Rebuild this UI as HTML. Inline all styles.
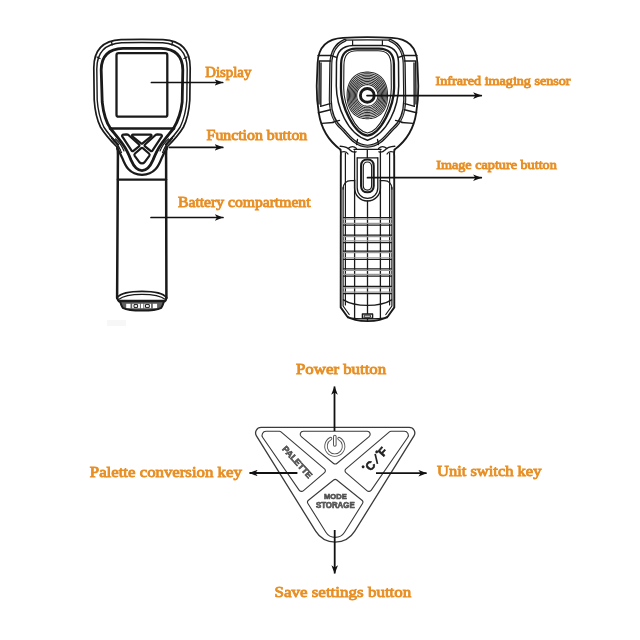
<!DOCTYPE html>
<html><head><meta charset="utf-8">
<style>
html,body{margin:0;padding:0;background:#fff;width:640px;height:640px;overflow:hidden}
svg{display:block;will-change:transform}
.lbl{font-family:"Liberation Serif",serif;font-weight:normal;fill:#E78F24;stroke:#E78F24;stroke-width:0.85px}
</style></head><body>
<svg width="640" height="640" viewBox="0 0 640 640">
<defs>
<marker id="ah" viewBox="0 0 8.5 6.6" refX="8.2" refY="3.3" markerWidth="8.5" markerHeight="6.6" markerUnits="userSpaceOnUse" orient="auto">
<path d="M0,0 L8.5,3.3 L0,6.6 L2.2,3.3 Z" fill="#111"/>
</marker>
</defs>

<!-- ============ LEFT DEVICE (front) ============ -->
<g fill="none" stroke="#1a1a1a" stroke-linecap="round" stroke-linejoin="round">
  <!-- outer shell -->
  <path stroke-width="1.7" d="M117,147 C110,140 104,133 100.5,127 C97,120 95,112 94.2,100 L93.8,68 C93.8,50 103,40.6 121,39.7 Q142,38.9 163,39.7 C181,40.6 190.2,50 190.2,68 L189.8,100 C189,112 187,120 183.5,127 C180,133 174,140 167,147"/>
  <path stroke-width="1.4" d="M118.5,144.5 C112,138 107,132 103.8,127 C100.5,120 98,112 97.2,100 L96.8,69 C96.8,53 105,43.8 121.5,42.8 Q142,42.1 162.5,42.8 C179,43.8 187.2,53 187.2,69 L186.8,100 C186,112 183.5,120 180.2,127 C177,132 172,138 165.5,144.5"/>
  <!-- notches in double line -->
  <path stroke-width="1.35" d="M111.5,41.8 L112.2,44.8 M172.5,41.8 L171.8,44.8 M97,57 L100,58.5 M187,57 L184,58.5"/>
  <!-- thick inner contour -->
  <path stroke-width="2.80" d="M110.5,128.5 C106,122 103.5,114 102.2,102 L101.2,70 C101.2,56 108.5,48.8 123,48.3 L161,48.3 C175.5,48.8 182.8,56 182.8,70 L182.2,102 C181,113 178,121 173.5,128.5"/>
  <!-- screen -->
  <rect x="116.5" y="53.2" width="50.8" height="63.5" rx="2" stroke-width="2.30"/>
  <!-- bezel bottom line -->
  <path stroke-width="2.50" d="M110,128.4 L174,128.4"/>
  <!-- V surround thick -->
  <path stroke-width="2.90" d="M110.5,128.5 C114,133 119,139 123,144.5 C127,150 129,155 131,160 C134,167 137,170.6 142,170.6 C147,170.6 150,167 153,160 C155,155 157,150 161,144.5 C165,139 170,133 173.5,128.5"/>
  <!-- outer U -->
  <path stroke-width="2.20" d="M117.2,148.5 C119,151 121,155 122.5,158.5 C125,165 129,174.8 142,174.8 C155,174.8 159,165 161.5,158.5 C163,155 165,151 166.8,148.5"/>
  <!-- buttons -->
  <path stroke-width="2.20" d="M133,134.7 L150.5,134.7 C151.5,134.7 152,135.5 151.2,136.3 L142.5,143.4 C142,143.8 141.5,143.8 141,143.4 L132.3,136.3 C131.5,135.5 132,134.7 133,134.7 Z"/>
  <path stroke-width="2.20" d="M123.5,134.6 L126.5,134.4 C127.5,134.4 128,134.6 128.7,135.2 L139,144.5 C139.6,145 139.6,145.8 139,146.3 L133.4,150.9 C132.8,151.4 132,151.2 131.6,150.6 L122.2,136.4 C121.7,135.5 122.5,134.7 123.5,134.6 Z"/>
  <path stroke-width="2.20" d="M160.5,134.6 L157.5,134.4 C156.5,134.4 156,134.6 155.3,135.2 L145,144.5 C144.4,145 144.4,145.8 145,146.3 L150.6,150.9 C151.2,151.4 152,151.2 152.4,150.6 L161.8,136.4 C162.3,135.5 161.5,134.7 160.5,134.6 Z"/>
  <path stroke-width="2.20" d="M141.2,148.2 C141.7,147.8 142.3,147.8 142.8,148.2 L149,153.5 C149.7,154.1 149.8,155 149.3,155.8 L144.5,162.3 C143.3,163.8 140.7,163.8 139.5,162.3 L134.7,155.8 C134.2,155 134.3,154.1 135,153.5 Z"/>
  <!-- grip ridges left -->
  <path stroke-width="1.2" d="M110,136 C114,139 117,143 119.5,148 M111.5,138.5 C115,141 118,145 120.5,150 M113,140.5 C116.5,143 119,147 121.5,152.5 M115.5,139 C119,142 122,146 124,151"/>
  <!-- grip ridges right -->
  <path stroke-width="1.2" d="M174,136 C170,139 167,143 164.5,148 M172.5,138.5 C169,141 166,145 163.5,150 M171,140.5 C167.5,143 165,147 162.5,152.5 M168.5,139 C165,142 162,146 160,151"/>
  <!-- handle -->
  <path stroke-width="2.50" d="M117.4,147.5 C118,150 118,153 117.9,158 L117.1,298"/>
  <path stroke-width="2.50" d="M166.6,147.5 C166,150 166,153 166.1,158 L166.4,298"/>
  <path stroke-width="2.30" d="M117.8,179.6 L166.2,179.6"/>
  <!-- bottom cap -->
  <path stroke="none" fill="#606060" d="M119.5,300 L164.5,300 C164,303 163,306 161.5,308 C157,310.5 150,311 142,311 C134,311 127,310.5 122.5,308 C121,306 120,303 119.5,300 Z"/>
  <g stroke="none" fill="#fff">
    <rect x="126.2" y="303.8" width="4.3" height="4.4"/>
    <rect x="132.2" y="303.8" width="7.7" height="4.4"/>
    <rect x="140.9" y="303.8" width="2.4" height="4.4"/>
    <rect x="144.3" y="303.8" width="6.8" height="4.4"/>
    <rect x="152.8" y="303.8" width="4.3" height="4.4"/>
  </g>
  <path stroke-width="1" d="M134.4,304.6 L137.6,304.6 L137.6,307.4 L134.4,307.4 Z M145.9,304.6 L149.3,304.6 L149.3,307.4 L145.9,307.4 Z"/>
  <path stroke-width="1.7" d="M117.1,297.5 C121,293 131,291.4 142,291.4 C153,291.4 163,293 166.4,297.5"/>
  <path stroke-width="1.3" d="M118.6,299.4 C123,296 132,294.4 142,294.4 C152,294.4 161,296 165.4,299.4"/>
  <path stroke-width="2" d="M117.1,297.5 C117.5,300 119,301.5 120.2,302 C121,304.5 121.8,306.5 122.7,307.8 C127,310 134,310.6 142,310.6 C150,310.6 157,310 161.3,307.8 C162.2,306.5 163,304.5 163.8,302 C165,301.5 166.4,300 166.4,297.5"/>
  <path stroke-width="2.4" d="M120.2,301 L163.8,301"/>
  <!-- faint marks below -->
  <rect x="107" y="320" width="19" height="6" fill="#f7f7f7" stroke="none"/>
  <!-- arrows -->
  <g stroke="#111" stroke-width="1.7">
    <path d="M151.4,82.5 L222.7,82.5" marker-end="url(#ah)"/>
    <path d="M169.3,147.4 L222.8,147.4" marker-end="url(#ah)"/>
    <path d="M151,217.5 L223,217.5" marker-end="url(#ah)"/>
  </g>
</g>

<!-- ============ RIGHT DEVICE (back) ============ -->
<g fill="none" stroke="#1a1a1a" stroke-linecap="round" stroke-linejoin="round">
  <!-- outer head C1 -->
  <path stroke-width="1.8" d="M340.4,149.6 C329,141 321,128 318.8,113 C317.3,104 316.6,95 316.7,86 L317.6,63 C318.4,46 328,38.6 343,37.9 Q367.5,36.4 392,37.9 C407,38.6 416.6,46 417.4,63 L418.3,86 C418.4,95 417.7,104 416.2,113 C414,128 406,141 394.6,149.6"/>
  <!-- top second line -->
  <path stroke-width="1.3" d="M344,40.2 Q367.5,39.4 391,40.2"/>
  <!-- C2 thick band -->
  <path stroke-width="3.1" d="M345,40.3 C337,43.5 331.2,51 330.8,64 L330.3,100 C330.6,114 334,122 341.7,128.4 C348,134 354,145.8 367.5,146.2 C381,145.8 387,134 393.3,128.4 C401,122 404.4,114 404.7,100 L404.2,64 C403.8,51 398,43.5 390,40.3"/>
  <path stroke-width="0.8" stroke="#c8c8c8" d="M345,40.3 C337,43.5 331.2,51 330.8,64 L330.3,100 C330.6,114 334,122 341.7,128.4 C348,134 354,145.8 367.5,146.2 C381,145.8 387,134 393.3,128.4 C401,122 404.4,114 404.7,100 L404.2,64 C403.8,51 398,43.5 390,40.3"/>
  <!-- C3 -->
  <path stroke-width="1.5" d="M367.5,140.2 C347,134 336.5,106 336.3,86 L336.5,62 C336.8,51 342,46 353,45.6 L382,45.6 C393,46 398.2,51 398.5,62 L398.7,86 C398.5,106 388,134 367.5,140.2 Z"/>
  <path stroke-width="1.2" d="M352.6,40.5 L352.6,45.4 M382.4,40.5 L382.4,45.4"/>
  <!-- C4 window thick -->
  <path stroke-width="2.3" d="M367.5,135.6 C354,134 341,106 340.9,88 L341.1,64 C341.4,53.5 346,48.9 356,48.7 L379,48.7 C389,48.9 393.6,53.5 393.9,64 L394.1,88 C394,106 381,134 367.5,135.6 Z"/>
  <!-- C5 window inner -->
  <path stroke-width="1.1" d="M367.5,133 C355,131.5 343.7,105 343.7,88 L343.9,65 C344.2,55 348,50.9 357,50.8 L378,50.8 C387,50.9 390.8,55 391.1,65 L391.3,88 C391.3,105 380,131.5 367.5,133 Z"/>
  <!-- radial ticks between C2/C3 -->
  <path stroke-width="1.3" d="M357.5,139.5 L356.5,144.5 M377.5,139.5 L378.5,144.5 M333,122.2 L339.5,120.4 M402,122.2 L395.5,120.4"/>
  <!-- side grips -->
  <path stroke-width="1.4" d="M318,55.5 L331,55.5 L336.5,57.3 M319.3,61 L330.8,61 M319.3,61 L319,104 M321,63 L320.8,106.4 M320.6,106.4 L330.1,103.6 M318.4,112.8 L330.5,109.7 M321.8,123.4 L333.3,122.5"/>
  <path stroke-width="1.4" d="M417,55.5 L404,55.5 L398.5,57.3 M415.7,61 L404.2,61 M415.7,61 L416,104 M414,63 L414.2,106.4 M414.4,106.4 L404.9,103.6 M416.6,112.8 L404.5,109.7 M413.2,123.4 L401.7,122.5"/>
  <!-- rings -->
  <g stroke-width="1.05" stroke="#2a2a2a">
    <path d="M377.90,95.40 L377.87,96.15 L377.80,96.90 L377.67,97.65 L377.49,98.38 L377.26,99.09 L376.98,99.79 L376.66,100.47 L376.29,101.12 L375.88,101.75 L375.42,102.34 L374.93,102.90 L374.39,103.43 L373.83,103.91 L373.23,104.35 L372.60,104.75 L371.95,105.11 L371.27,105.41 L370.58,105.67 L369.86,105.88 L369.14,106.04 L368.41,106.14 L367.67,106.19 L366.93,106.19 L366.19,106.14 L365.46,106.04 L364.74,105.88 L364.02,105.67 L363.33,105.41 L362.65,105.11 L362.00,104.75 L361.37,104.35 L360.77,103.91 L360.21,103.43 L359.67,102.90 L359.18,102.34 L358.72,101.75 L358.31,101.12 L357.94,100.47 L357.62,99.79 L357.34,99.09 L357.11,98.38 L356.93,97.65 L356.80,96.90 L356.73,96.15 L356.70,95.40 L356.73,94.65 L356.80,93.90 L356.93,93.15 L357.11,92.42 L357.34,91.71 L357.62,91.01 L357.94,90.33 L358.31,89.68 L358.72,89.05 L359.18,88.46 L359.67,87.90 L360.21,87.37 L360.77,86.89 L361.37,86.45 L362.00,86.05 L362.65,85.69 L363.33,85.39 L364.02,85.13 L364.74,84.92 L365.46,84.76 L366.19,84.66 L366.93,84.61 L367.67,84.61 L368.41,84.66 L369.14,84.76 L369.86,84.92 L370.58,85.13 L371.27,85.39 L371.95,85.69 L372.60,86.05 L373.23,86.45 L373.83,86.89 L374.39,87.37 L374.93,87.90 L375.42,88.46 L375.88,89.05 L376.29,89.68 L376.66,90.33 L376.98,91.01 L377.26,91.71 L377.49,92.42 L377.67,93.15 L377.80,93.90 L377.87,94.65 Z"/>
    <path d="M379.10,95.40 L379.07,96.30 L378.99,97.17 L378.85,98.03 L378.65,98.88 L378.40,99.70 L378.09,100.50 L377.74,101.27 L377.33,102.02 L376.88,102.73 L376.38,103.40 L375.83,104.04 L375.24,104.63 L374.62,105.18 L373.96,105.68 L373.26,106.13 L372.54,106.53 L371.79,106.88 L371.01,107.17 L370.22,107.40 L369.40,107.58 L368.58,107.70 L367.73,107.76 L366.87,107.76 L366.02,107.70 L365.20,107.58 L364.38,107.40 L363.59,107.17 L362.81,106.88 L362.06,106.53 L361.34,106.13 L360.64,105.68 L359.98,105.18 L359.36,104.63 L358.77,104.04 L358.22,103.40 L357.72,102.73 L357.27,102.02 L356.86,101.27 L356.51,100.50 L356.20,99.70 L355.95,98.88 L355.75,98.03 L355.61,97.17 L355.53,96.30 L355.50,95.40 L355.53,94.50 L355.61,93.63 L355.75,92.77 L355.95,91.92 L356.20,91.10 L356.51,90.30 L356.86,89.53 L357.27,88.78 L357.72,88.07 L358.22,87.40 L358.77,86.76 L359.36,86.17 L359.98,85.62 L360.64,85.12 L361.34,84.67 L362.06,84.27 L362.81,83.92 L363.59,83.63 L364.38,83.40 L365.20,83.22 L366.02,83.10 L366.87,83.04 L367.73,83.04 L368.58,83.10 L369.40,83.22 L370.22,83.40 L371.01,83.63 L371.79,83.92 L372.54,84.27 L373.26,84.67 L373.96,85.12 L374.62,85.62 L375.24,86.17 L375.83,86.76 L376.38,87.40 L376.88,88.07 L377.33,88.78 L377.74,89.53 L378.09,90.30 L378.40,91.10 L378.65,91.92 L378.85,92.77 L378.99,93.63 L379.07,94.50 Z"/>
    <path d="M380.30,95.40 L380.27,96.45 L380.18,97.46 L380.02,98.44 L379.81,99.39 L379.54,100.32 L379.21,101.22 L378.82,102.09 L378.38,102.92 L377.88,103.72 L377.34,104.47 L376.75,105.18 L376.11,105.84 L375.42,106.45 L374.70,107.01 L373.94,107.51 L373.14,107.96 L372.32,108.34 L371.46,108.66 L370.58,108.92 L369.68,109.12 L368.76,109.25 L367.80,109.32 L366.80,109.32 L365.84,109.25 L364.92,109.12 L364.02,108.92 L363.14,108.66 L362.28,108.34 L361.46,107.96 L360.66,107.51 L359.90,107.01 L359.18,106.45 L358.49,105.84 L357.85,105.18 L357.26,104.47 L356.72,103.72 L356.22,102.92 L355.78,102.09 L355.39,101.22 L355.06,100.32 L354.79,99.39 L354.58,98.44 L354.42,97.46 L354.33,96.45 L354.30,95.40 L354.33,94.35 L354.42,93.34 L354.58,92.36 L354.79,91.41 L355.06,90.48 L355.39,89.58 L355.78,88.71 L356.22,87.88 L356.72,87.08 L357.26,86.33 L357.85,85.62 L358.49,84.96 L359.18,84.35 L359.90,83.79 L360.66,83.29 L361.46,82.84 L362.28,82.46 L363.14,82.14 L364.02,81.88 L364.92,81.68 L365.84,81.55 L366.80,81.48 L367.80,81.48 L368.76,81.55 L369.68,81.68 L370.58,81.88 L371.46,82.14 L372.32,82.46 L373.14,82.84 L373.94,83.29 L374.70,83.79 L375.42,84.35 L376.11,84.96 L376.75,85.62 L377.34,86.33 L377.88,87.08 L378.38,87.88 L378.82,88.71 L379.21,89.58 L379.54,90.48 L379.81,91.41 L380.02,92.36 L380.18,93.34 L380.27,94.35 Z"/>
    <path d="M381.50,95.40 L381.47,96.62 L381.37,97.75 L381.20,98.85 L380.97,99.92 L380.68,100.96 L380.32,101.96 L379.91,102.92 L379.43,103.84 L378.90,104.72 L378.31,105.55 L377.67,106.34 L376.97,107.06 L376.23,107.74 L375.45,108.35 L374.62,108.90 L373.76,109.39 L372.86,109.81 L371.92,110.16 L370.96,110.45 L369.97,110.66 L368.94,110.81 L367.88,110.88 L366.72,110.88 L365.66,110.81 L364.63,110.66 L363.64,110.45 L362.68,110.16 L361.74,109.81 L360.84,109.39 L359.98,108.90 L359.15,108.35 L358.37,107.74 L357.63,107.06 L356.93,106.34 L356.29,105.55 L355.70,104.72 L355.17,103.84 L354.69,102.92 L354.28,101.96 L353.92,100.96 L353.63,99.92 L353.40,98.85 L353.23,97.75 L353.13,96.62 L353.10,95.40 L353.13,94.18 L353.23,93.05 L353.40,91.95 L353.63,90.88 L353.92,89.84 L354.28,88.84 L354.69,87.88 L355.17,86.96 L355.70,86.08 L356.29,85.25 L356.93,84.46 L357.63,83.74 L358.37,83.06 L359.15,82.45 L359.98,81.90 L360.84,81.41 L361.74,80.99 L362.68,80.64 L363.64,80.35 L364.63,80.14 L365.66,79.99 L366.72,79.92 L367.88,79.92 L368.94,79.99 L369.97,80.14 L370.96,80.35 L371.92,80.64 L372.86,80.99 L373.76,81.41 L374.62,81.90 L375.45,82.45 L376.23,83.06 L376.97,83.74 L377.67,84.46 L378.31,85.25 L378.90,86.08 L379.43,86.96 L379.91,87.88 L380.32,88.84 L380.68,89.84 L380.97,90.88 L381.20,91.95 L381.37,93.05 L381.47,94.18 Z"/>
    <path d="M382.70,95.40 L382.66,96.79 L382.56,98.06 L382.38,99.29 L382.14,100.47 L381.82,101.61 L381.44,102.71 L381.00,103.77 L380.49,104.78 L379.92,105.74 L379.28,106.65 L378.59,107.50 L377.85,108.29 L377.06,109.03 L376.21,109.69 L375.32,110.29 L374.39,110.82 L373.41,111.28 L372.40,111.66 L371.35,111.97 L370.26,112.21 L369.14,112.36 L367.95,112.44 L366.65,112.44 L365.46,112.36 L364.34,112.21 L363.25,111.97 L362.20,111.66 L361.19,111.28 L360.21,110.82 L359.28,110.29 L358.39,109.69 L357.54,109.03 L356.75,108.29 L356.01,107.50 L355.32,106.65 L354.68,105.74 L354.11,104.78 L353.60,103.77 L353.16,102.71 L352.78,101.61 L352.46,100.47 L352.22,99.29 L352.04,98.06 L351.94,96.79 L351.90,95.40 L351.94,94.01 L352.04,92.74 L352.22,91.51 L352.46,90.33 L352.78,89.19 L353.16,88.09 L353.60,87.03 L354.11,86.02 L354.68,85.06 L355.32,84.15 L356.01,83.30 L356.75,82.51 L357.54,81.77 L358.39,81.11 L359.28,80.51 L360.21,79.98 L361.19,79.52 L362.20,79.14 L363.25,78.83 L364.34,78.59 L365.46,78.44 L366.65,78.36 L367.95,78.36 L369.14,78.44 L370.26,78.59 L371.35,78.83 L372.40,79.14 L373.41,79.52 L374.39,79.98 L375.32,80.51 L376.21,81.11 L377.06,81.77 L377.85,82.51 L378.59,83.30 L379.28,84.15 L379.92,85.06 L380.49,86.02 L381.00,87.03 L381.44,88.09 L381.82,89.19 L382.14,90.33 L382.38,91.51 L382.56,92.74 L382.66,94.01 Z"/>
    <path d="M383.90,95.40 L383.86,96.97 L383.75,98.39 L383.56,99.74 L383.30,101.03 L382.97,102.28 L382.56,103.48 L382.09,104.63 L381.55,105.73 L380.94,106.77 L380.26,107.75 L379.53,108.68 L378.74,109.53 L377.89,110.32 L376.98,111.04 L376.03,111.69 L375.03,112.26 L373.98,112.75 L372.89,113.17 L371.75,113.50 L370.57,113.75 L369.34,113.92 L368.04,114.00 L366.56,114.00 L365.26,113.92 L364.03,113.75 L362.85,113.50 L361.71,113.17 L360.62,112.75 L359.57,112.26 L358.57,111.69 L357.62,111.04 L356.71,110.32 L355.86,109.53 L355.07,108.68 L354.34,107.75 L353.66,106.77 L353.05,105.73 L352.51,104.63 L352.04,103.48 L351.63,102.28 L351.30,101.03 L351.04,99.74 L350.85,98.39 L350.74,96.97 L350.70,95.40 L350.74,93.83 L350.85,92.41 L351.04,91.06 L351.30,89.77 L351.63,88.52 L352.04,87.32 L352.51,86.17 L353.05,85.07 L353.66,84.03 L354.34,83.05 L355.07,82.12 L355.86,81.27 L356.71,80.48 L357.62,79.76 L358.57,79.11 L359.57,78.54 L360.62,78.05 L361.71,77.63 L362.85,77.30 L364.03,77.05 L365.26,76.88 L366.56,76.80 L368.04,76.80 L369.34,76.88 L370.57,77.05 L371.75,77.30 L372.89,77.63 L373.98,78.05 L375.03,78.54 L376.03,79.11 L376.98,79.76 L377.89,80.48 L378.74,81.27 L379.53,82.12 L380.26,83.05 L380.94,84.03 L381.55,85.07 L382.09,86.17 L382.56,87.32 L382.97,88.52 L383.30,89.77 L383.56,91.06 L383.75,92.41 L383.86,93.83 Z"/>
    <path d="M385.10,95.40 L385.06,97.17 L384.94,98.72 L384.74,100.20 L384.47,101.61 L384.12,102.96 L383.69,104.26 L383.19,105.51 L382.61,106.69 L381.96,107.81 L381.25,108.87 L380.47,109.86 L379.63,110.78 L378.72,111.63 L377.76,112.40 L376.74,113.09 L375.67,113.70 L374.55,114.23 L373.38,114.67 L372.16,115.03 L370.89,115.29 L369.56,115.47 L368.13,115.56 L366.47,115.56 L365.04,115.47 L363.71,115.29 L362.44,115.03 L361.22,114.67 L360.05,114.23 L358.93,113.70 L357.86,113.09 L356.84,112.40 L355.88,111.63 L354.97,110.78 L354.13,109.86 L353.35,108.87 L352.64,107.81 L351.99,106.69 L351.41,105.51 L350.91,104.26 L350.48,102.96 L350.13,101.61 L349.86,100.20 L349.66,98.72 L349.54,97.17 L349.50,95.40 L349.54,93.63 L349.66,92.08 L349.86,90.60 L350.13,89.19 L350.48,87.84 L350.91,86.54 L351.41,85.29 L351.99,84.11 L352.64,82.99 L353.35,81.93 L354.13,80.94 L354.97,80.02 L355.88,79.17 L356.84,78.40 L357.86,77.71 L358.93,77.10 L360.05,76.57 L361.22,76.13 L362.44,75.77 L363.71,75.51 L365.04,75.33 L366.47,75.24 L368.13,75.24 L369.56,75.33 L370.89,75.51 L372.16,75.77 L373.38,76.13 L374.55,76.57 L375.67,77.10 L376.74,77.71 L377.76,78.40 L378.72,79.17 L379.63,80.02 L380.47,80.94 L381.25,81.93 L381.96,82.99 L382.61,84.11 L383.19,85.29 L383.69,86.54 L384.12,87.84 L384.47,89.19 L384.74,90.60 L384.94,92.08 L385.06,93.63 Z"/>
    <path d="M386.30,95.40 L386.26,97.37 L386.13,99.07 L385.93,100.68 L385.64,102.20 L385.26,103.66 L384.81,105.06 L384.28,106.40 L383.68,107.66 L383.00,108.86 L382.24,109.99 L381.42,111.05 L380.53,112.03 L379.57,112.94 L378.55,113.76 L377.47,114.49 L376.33,115.14 L375.14,115.71 L373.89,116.18 L372.59,116.55 L371.22,116.84 L369.78,117.03 L368.22,117.13 L366.38,117.13 L364.82,117.03 L363.38,116.84 L362.01,116.55 L360.71,116.18 L359.46,115.71 L358.27,115.14 L357.13,114.49 L356.05,113.76 L355.03,112.94 L354.07,112.03 L353.18,111.05 L352.36,109.99 L351.60,108.86 L350.92,107.66 L350.32,106.40 L349.79,105.06 L349.34,103.66 L348.96,102.20 L348.67,100.68 L348.47,99.07 L348.34,97.37 L348.30,95.40 L348.34,93.43 L348.47,91.73 L348.67,90.12 L348.96,88.60 L349.34,87.14 L349.79,85.74 L350.32,84.40 L350.92,83.14 L351.60,81.94 L352.36,80.81 L353.18,79.75 L354.07,78.77 L355.03,77.86 L356.05,77.04 L357.13,76.31 L358.27,75.66 L359.46,75.09 L360.71,74.62 L362.01,74.25 L363.38,73.96 L364.82,73.77 L366.38,73.67 L368.22,73.67 L369.78,73.77 L371.22,73.96 L372.59,74.25 L373.89,74.62 L375.14,75.09 L376.33,75.66 L377.47,76.31 L378.55,77.04 L379.57,77.86 L380.53,78.77 L381.42,79.75 L382.24,80.81 L383.00,81.94 L383.68,83.14 L384.28,84.40 L384.81,85.74 L385.26,87.14 L385.64,88.60 L385.93,90.12 L386.13,91.73 L386.26,93.43 Z"/>
    <path d="M387.50,95.40 L387.46,97.58 L387.33,99.44 L387.11,101.17 L386.80,102.81 L386.41,104.38 L385.94,105.87 L385.38,107.30 L384.75,108.65 L384.03,109.93 L383.24,111.13 L382.37,112.25 L381.43,113.30 L380.43,114.25 L379.35,115.12 L378.21,115.90 L377.00,116.59 L375.74,117.19 L374.41,117.68 L373.02,118.08 L371.56,118.39 L370.01,118.59 L368.32,118.69 L366.28,118.69 L364.59,118.59 L363.04,118.39 L361.58,118.08 L360.19,117.68 L358.86,117.19 L357.60,116.59 L356.39,115.90 L355.25,115.12 L354.17,114.25 L353.17,113.30 L352.23,112.25 L351.36,111.13 L350.57,109.93 L349.85,108.65 L349.22,107.30 L348.66,105.87 L348.19,104.38 L347.80,102.81 L347.49,101.17 L347.27,99.44 L347.14,97.58 L347.10,95.40 L347.14,93.22 L347.27,91.36 L347.49,89.63 L347.80,87.99 L348.19,86.42 L348.66,84.93 L349.22,83.50 L349.85,82.15 L350.57,80.87 L351.36,79.67 L352.23,78.55 L353.17,77.50 L354.17,76.55 L355.25,75.68 L356.39,74.90 L357.60,74.21 L358.86,73.61 L360.19,73.12 L361.58,72.72 L363.04,72.41 L364.59,72.21 L366.28,72.11 L368.32,72.11 L370.01,72.21 L371.56,72.41 L373.02,72.72 L374.41,73.12 L375.74,73.61 L377.00,74.21 L378.21,74.90 L379.35,75.68 L380.43,76.55 L381.43,77.50 L382.37,78.55 L383.24,79.67 L384.03,80.87 L384.75,82.15 L385.38,83.50 L385.94,84.93 L386.41,86.42 L386.80,87.99 L387.11,89.63 L387.33,91.36 L387.46,93.22 Z"/>
  </g>
  <circle cx="367.3" cy="95.4" r="6.9" stroke-width="2.9"/>
  <!-- neck -->
  <path stroke-width="1.4" d="M340.2,146.3 C344,146.5 348,147.5 350,150 C352,152 354,152.5 356,151.8 M394.8,146.3 C391,146.5 387,147.5 385,150 C383,152 381,152.5 379,151.8"/>
  <path stroke-width="1.2" d="M341.5,152 C345,151 347,152 348,154 M393.5,152 C390,151 388,152 387,154 M348,148.5 C351,146 354,146 356.5,148.5 M387,148.5 C384,146 381,146 378.5,148.5"/>
  <path stroke-width="1.3" d="M354,149.4 L381,149.4 M357.3,157.8 L377.7,157.8 M367.3,149.4 L367.3,157.8"/>
  <!-- handle sides -->
  <path stroke-width="1.9" d="M340.4,149.6 C341,151 341,153 340.8,156 L340.7,307.4 L347.2,316.5 C352,320 359,321.1 367.5,321.1 C376,321.1 383,320 387.8,316.5 L394.3,307.4 L394.2,156 C394,153 394,151 394.6,149.6"/>
  <path stroke-width="1.2" d="M343.1,187 L343.1,306 L349.2,314.5 M391.9,187 L391.9,306 L385.8,314.5"/>
  <path stroke-width="1.2" d="M345.4,153 L345.4,305 M389.6,153 L389.6,305"/>
  <path stroke-width="1.3" d="M354.6,151 L354.6,318.5 M380.4,151 L380.4,318.5"/>
  <!-- capture button -->
  <path stroke-width="1.4" d="M354.6,180 L354.6,188.1 C354.6,195.2 360.4,201 367.5,201 C374.6,201 380.4,195.2 380.4,188.1 L380.4,180"/>
  <path stroke-width="1.3" d="M357.2,157.8 L357.2,188.1 C357.2,193.8 361.8,198.4 367.5,198.4 C373.2,198.4 377.8,193.8 377.8,188.1 L377.8,157.8"/>
  <path stroke-width="2.1" d="M361.1,166 C361.1,161.5 363.8,159.5 367.4,159.5 C371,159.5 373.7,161.5 373.7,166 L373.7,186 C373.7,190 371,192.3 367.4,192.3 C363.8,192.3 361.1,190 361.1,186 Z"/>
  <path stroke-width="1.1" d="M363.3,167 C363.3,163.5 365,162 367.4,162 C369.8,162 371.6,163.5 371.6,167 L371.6,185.5 C371.6,188.6 369.8,190.1 367.4,190.1 C365,190.1 363.3,188.6 363.3,185.5 Z"/>
  <!-- grip panel -->
  <path stroke-width="1.3" d="M343.1,189 C343.1,184 346,180.7 351,180.7 L354.6,180.7 M391.9,189 C391.9,184 389,180.7 384,180.7 L380.4,180.7"/>
  <path stroke-width="1.3" d="M367.5,201 L367.5,321"/>
  <path stroke-width="1.4" d="M343.4,299.8 C350,304 358,305.4 367.5,305.4 C377,305.4 385,304 391.6,299.8"/>
  <path stroke-width="1.2" d="M347.5,317.6 C354,318.6 360,318.8 367.5,318.8 C375,318.8 381,318.6 387.5,317.6"/>
  <!-- grip stripes -->
  <g stroke-width="1.25">
    <path d="M343.5,217.5 L391.5,217.5 M343.5,225 L391.5,225"/>
    <path d="M343.5,235 L391.5,235 M343.5,242.5 L391.5,242.5"/>
    <path d="M343.5,251 L391.5,251 M343.5,259.4 L391.5,259.4"/>
    <path d="M343.5,268.8 L391.5,268.8 M343.5,276 L391.5,276"/>
    <path d="M343.5,286.3 L391.5,286.3 M343.5,293.7 L391.5,293.7"/>
  </g>
  <g stroke="#9a9a9a" stroke-width="1.1"><path d="M343.5,219.1 L391.5,219.1 M343.5,223.4 L391.5,223.4"/><path d="M343.5,236.6 L391.5,236.6 M343.5,240.9 L391.5,240.9"/><path d="M343.5,252.6 L391.5,252.6 M343.5,257.8 L391.5,257.8"/><path d="M343.5,270.4 L391.5,270.4 M343.5,274.4 L391.5,274.4"/><path d="M343.5,287.9 L391.5,287.9 M343.5,292.1 L391.5,292.1"/></g>
  <rect x="362.4" y="314" width="10.2" height="4.2" stroke-width="1.4" fill="#fff"/>
  <rect x="364.6" y="315.2" width="5.8" height="2" stroke-width="0.9"/>
  <!-- arrows -->
  <g stroke="#111" stroke-width="1.7">
    <path d="M367,95.6 L481.3,95.6" marker-end="url(#ah)"/>
    <path d="M367.5,177.7 L481.3,177.7" marker-end="url(#ah)"/>
  </g>
</g>

<!-- ============ TRIANGLE KEYPAD ============ -->
<g fill="none" stroke="#3a3a3a" stroke-linecap="round" stroke-linejoin="round">
  <path stroke-width="1.3" d="M261.11,427.40 L409.29,427.40 A5.5,5.5 0 0 1 413.97,435.80 L354.74,531.16 A23,23 0 0 1 315.66,531.16 L256.43,435.80 A5.5,5.5 0 0 1 261.11,427.40 Z"/>
  <path stroke-width="1.1" d="M303.21,431.25 L367.19,431.25 A3,3 0 0 1 369.12,436.55 L337.12,463.24 A3,3 0 0 1 333.28,463.24 L301.28,436.55 A3,3 0 0 1 303.21,431.25 Z"/>
  <path stroke-width="1.1" d="M266.03,431.25 L279.38,431.25 A2.5,2.5 0 0 1 280.99,431.85 L324.50,468.83 A2.5,2.5 0 0 1 324.51,472.63 L303.51,490.65 A3,3 0 0 1 299.09,490.08 L262.74,437.53 A4,4 0 0 1 266.03,431.25 Z"/>
  <path stroke-width="1.1" d="M366.89,490.65 L345.89,472.63 A2.5,2.5 0 0 1 345.90,468.83 L389.41,431.85 A2.5,2.5 0 0 1 391.02,431.25 L404.37,431.25 A4,4 0 0 1 407.66,437.53 L371.31,490.08 A3,3 0 0 1 366.89,490.65 Z"/>
  <path stroke-width="1.1" d="M336.77,479.96 L361.95,500.23 A2.5,2.5 0 0 1 362.50,503.50 L344.53,532.25 A11,11 0 0 1 325.87,532.25 L307.90,503.50 A2.5,2.5 0 0 1 308.45,500.23 L333.63,479.96 A2.5,2.5 0 0 1 336.77,479.96 Z"/>
  <!-- power icon -->
  <path stroke-width="3.4" stroke="#555" d="M330.6,438.6 A8.8,8.8 0 1 0 339,438.6"/>
  <path stroke-width="1.6" stroke="#fff" d="M330.6,438.6 A8.8,8.8 0 1 0 339,438.6"/>
  <path stroke-width="3.6" stroke="#555" d="M334.8,436.6 L334.8,445"/>
  <path stroke-width="1.6" stroke="#fff" d="M334.8,436.6 L334.8,445"/>
</g>
<g font-family="Liberation Sans, sans-serif" font-weight="bold">
  <text x="0" y="0" font-size="8.7" fill="#6a6a6a" stroke="#444" stroke-width="0.6" textLength="40" lengthAdjust="spacingAndGlyphs" transform="translate(281.8,449.2) rotate(48)">PALETTE</text>
  <g transform="translate(362.9,466.6) rotate(-48)" fill="#222">
    <circle cx="0" cy="0.3" r="1.45"/>
    <text x="1.3" y="9" font-size="12" stroke="#222" stroke-width="0.6">C</text>
    <path d="M11.8,9 L17.6,0.6" stroke="#222" stroke-width="1.7" fill="none"/>
    <circle cx="20.2" cy="0.4" r="1.45"/>
    <text x="20.6" y="9" font-size="12" stroke="#222" stroke-width="0.6">F</text>
  </g>
  <text x="324" y="499.1" font-size="8" fill="#6a6a6a" stroke="#444" stroke-width="0.6" textLength="22.7" lengthAdjust="spacingAndGlyphs">MODE</text>
  <text x="315.9" y="508.4" font-size="8.4" fill="#6a6a6a" stroke="#444" stroke-width="0.6" textLength="38.8" lengthAdjust="spacingAndGlyphs">STORAGE</text>
</g>
<g stroke="#111" stroke-width="1.8" fill="none">
  <path d="M334.5,431 L334.5,386.5" marker-end="url(#ah)"/>
  <path d="M334.7,530 L334.7,573.5" marker-end="url(#ah)"/>
  <path d="M297.4,473 L249.5,473" marker-end="url(#ah)"/>
  <path d="M376,473.2 L426.6,473.2" marker-end="url(#ah)"/>
</g>

<!-- ============ LABELS ============ -->
<g class="lbl">
  <text x="205.3" y="76.8" font-size="14.1" textLength="46" lengthAdjust="spacingAndGlyphs">Display</text>
  <text x="206.6" y="139.8" font-size="14.1" textLength="100.6" lengthAdjust="spacingAndGlyphs">Function button</text>
  <text x="178" y="207.3" font-size="14.1" textLength="132.5" lengthAdjust="spacingAndGlyphs">Battery compartment</text>
  <text x="435.6" y="85.3" font-size="12.8" textLength="135" lengthAdjust="spacingAndGlyphs">Infrared imaging sensor</text>
  <text x="436.2" y="169.2" font-size="12.8" textLength="120.6" lengthAdjust="spacingAndGlyphs">Image capture button</text>
  <text x="296" y="374.2" font-size="15" textLength="90.2" lengthAdjust="spacingAndGlyphs">Power button</text>
  <text x="89.8" y="476.6" font-size="15" textLength="152" lengthAdjust="spacingAndGlyphs">Palette conversion key</text>
  <text x="437" y="476" font-size="15.2" textLength="104.4" lengthAdjust="spacingAndGlyphs">Unit switch key</text>
  <text x="274.5" y="597.3" font-size="15.2" textLength="136.8" lengthAdjust="spacingAndGlyphs">Save settings button</text>
</g>
</svg>
</body></html>
